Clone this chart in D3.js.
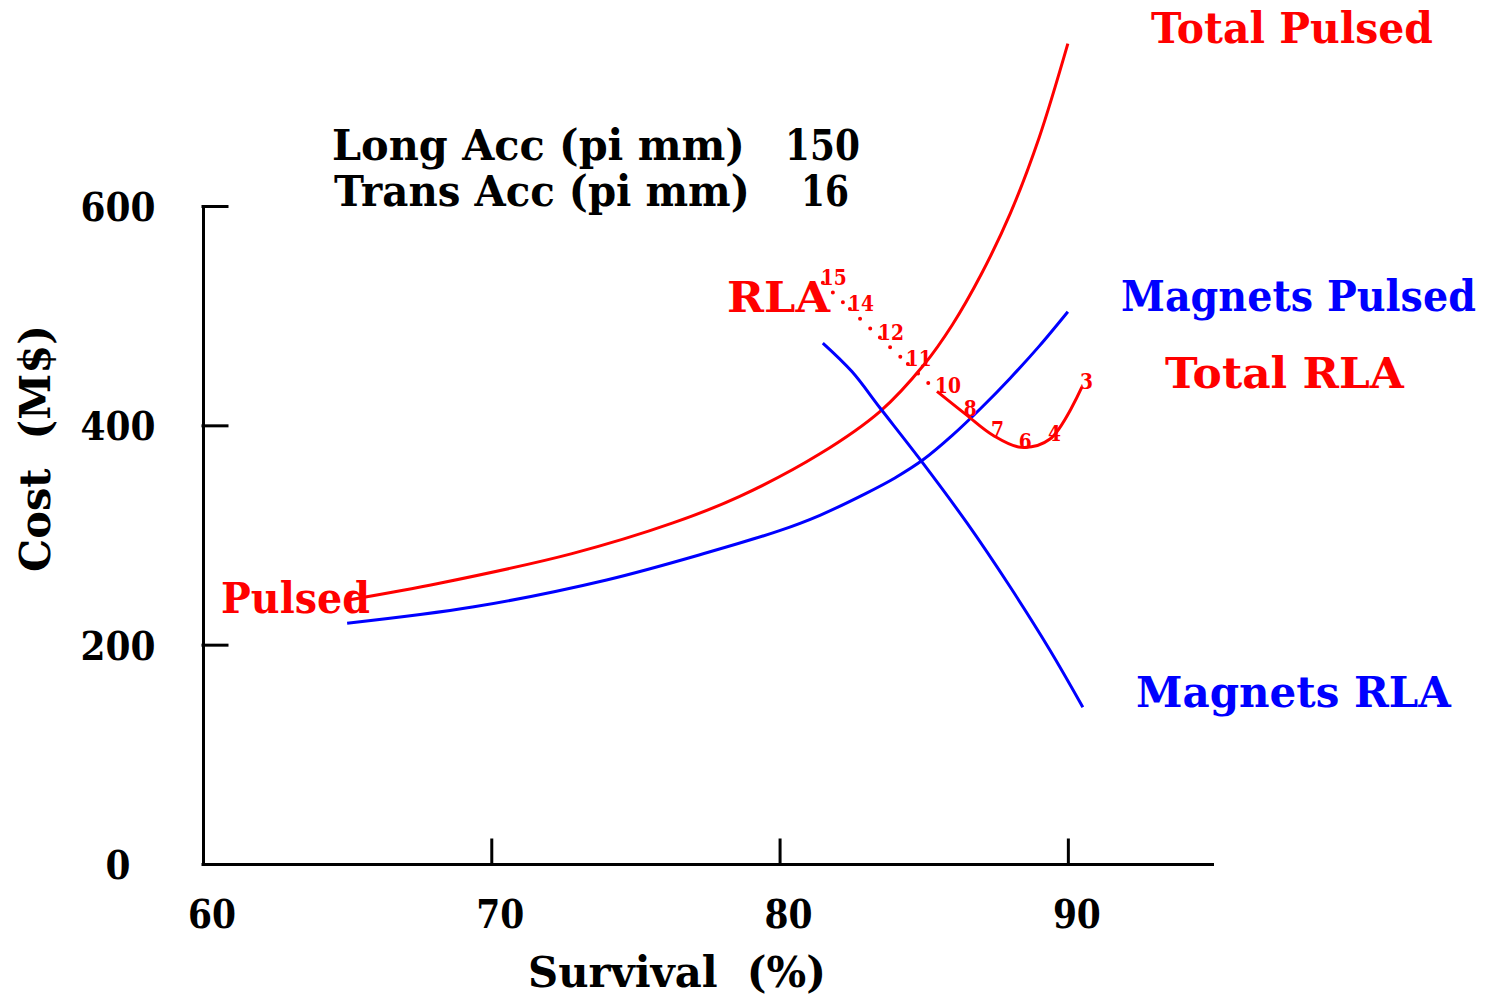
<!DOCTYPE html>
<html><head><meta charset="utf-8">
<script src="https://cdn.jsdelivr.net/npm/d3@7"></script>
<style>body{margin:0;background:#fff} text{font-family:"DejaVu Serif",serif;font-weight:bold;white-space:pre}</style>
</head><body>
<svg id="chart" width="1485" height="998"></svg>
<script>
// ---- data ----
const pulsedSurvival   = [65.1, 68.2, 72.8, 76.3, 78.6, 81.4, 83.5, 85.0, 86.0, 87.0, 88.0, 89.0, 90.0];
const totalPulsedCost  = [241, 256, 283, 311, 335, 374, 413, 455, 492, 538, 593, 662, 748];
const magnetsPulsedSurvival = [65.0, 69.4, 74.0, 77.5, 80.0, 81.4, 83.0, 84.0, 85.0, 86.0, 87.0, 88.0, 89.0, 90.0];
const magnetsPulsedCost     = [219.5, 234.5, 259, 284, 304, 318, 338, 352, 369, 391, 416, 443, 472, 503.6];
const magnetsRlaSurvival = [81.5, 82.51, 83.48, 84.9, 86.5, 87.99, 89.38, 90.52];
const magnetsRlaCost     = [475, 449, 416, 368, 311, 253, 195, 143];
const rlaPasses    = [15, 14, 12, 11, 10, 8, 7, 6, 4, 3];
const rlaSurvival  = [81.5, 82.44, 83.48, 84.45, 85.46, 86.46, 87.4, 88.37, 89.38, 90.49];
const rlaTotalCost = [530, 506, 480, 456, 431, 410, 391, 380, 387.5, 435];
const xTicks = [60, 70, 80, 90];
const yTicks = [0, 200, 400, 600];

// ---- layout ----
const svg = d3.select("#chart");
const x = d3.scaleLinear().domain([60, 95]).range([203, 1212]);
const y = d3.scaleLinear().domain([0, 600]).range([864, 206]);
const RED = "#ff0000", BLUE = "#0000ff";

// text fitted to a target width by a horizontal scale (keeps bounding boxes honest)
function txt(str, px, py, w, opts = {}) {
  const t = svg.append("text")
    .attr("x", 0).attr("y", 0)
    .attr("font-size", opts.size || 42)
    .attr("fill", opts.color || "#000")
    .attr("text-anchor", opts.anchor || "start")
    .text(str);
  const natural = t.node().getComputedTextLength();
  const s = (w && natural) ? w / natural : 1;
  t.attr("transform", `translate(${px},${py})${opts.rotate ? ` rotate(${opts.rotate})` : ""} scale(${s},1)`);
  return t;
}

// axes
const xAxis = svg.append("g").attr("transform", `translate(0,${y(0)})`)
  .call(d3.axisBottom(x).tickValues(xTicks).tickSize(-24).tickSizeOuter(0).tickFormat(""));
const yAxis = svg.append("g").attr("transform", `translate(${x(60)},0)`)
  .call(d3.axisLeft(y).tickValues(yTicks).tickSize(-24).tickSizeOuter(0).tickFormat(""));
[xAxis, yAxis].forEach(g => {
  g.selectAll("path,line").attr("stroke", "#000").attr("stroke-width", 3).attr("stroke-linecap", "square");
});

xTicks.forEach(v => txt(String(v), x(v) + 9, 928, 24 * String(v).length, {anchor: "middle", size: 40}));
yTicks.forEach(v => txt(String(v), 118, y(v) + 15, 25 * String(v).length, {anchor: "middle", size: 40}));

txt("Survival  (%)", 528, 987, 298);
txt("Cost  (M$)", 50, 448.5, 247, {anchor: "middle", rotate: -90});

// lines
const line = d3.line().x(d => x(d[0])).y(d => y(d[1])).curve(d3.curveCatmullRom.alpha(0.5));
function drawSeries(xs, ys, color) {
  return svg.append("path").datum(xs.map((v, i) => [v, ys[i]]))
    .attr("d", line).attr("fill", "none").attr("stroke", color)
    .attr("stroke-width", 3).attr("stroke-linejoin", "round");
}
drawSeries(pulsedSurvival, totalPulsedCost, RED);
drawSeries(magnetsPulsedSurvival, magnetsPulsedCost, BLUE);
drawSeries(magnetsRlaSurvival, magnetsRlaCost, BLUE);

// RLA total: dotted for passes 15..10, solid for 10..3
const rlaPts = rlaSurvival.map((v, i) => [v, rlaTotalCost[i], rlaPasses[i]]);
const splitIdx = rlaPasses.indexOf(10);
for (let i = 0; i < splitIdx; i++) {
  const a = rlaPts[i], b = rlaPts[i + 1];
  svg.append("line")
    .attr("x1", x(a[0])).attr("y1", y(a[1])).attr("x2", x(b[0])).attr("y2", y(b[1]))
    .attr("stroke", RED).attr("stroke-width", 4).attr("stroke-linecap", "round")
    .attr("stroke-dasharray", "0,14");
}
svg.append("path").datum(rlaPts.slice(splitIdx))
  .attr("d", line).attr("fill", "none").attr("stroke", RED).attr("stroke-width", 3);

rlaPts.forEach(p => {
  const s = String(p[2]);
  txt(s, x(p[0]) - 2, y(p[1]) + 2, 13 * s.length, {size: 22, color: RED});
});

// series labels
txt("Total Pulsed", 1151, 43, 282, {color: RED});
txt("Magnets Pulsed", 1121, 311, 355, {color: BLUE});
txt("Total RLA", 1165, 388, 239, {color: RED});
txt("Magnets RLA", 1136, 707, 315, {color: BLUE});
txt("Pulsed", 221, 613, 149, {color: RED});
txt("RLA", 727, 312, 103, {color: RED});

// parameter box
txt("Long Acc (pi mm)", 332, 160, 413);
txt("150", 785, 160, 75);
txt("Trans Acc (pi mm)", 334, 206, 416);
txt("16", 801, 206, 48);
</script>
</body></html>
